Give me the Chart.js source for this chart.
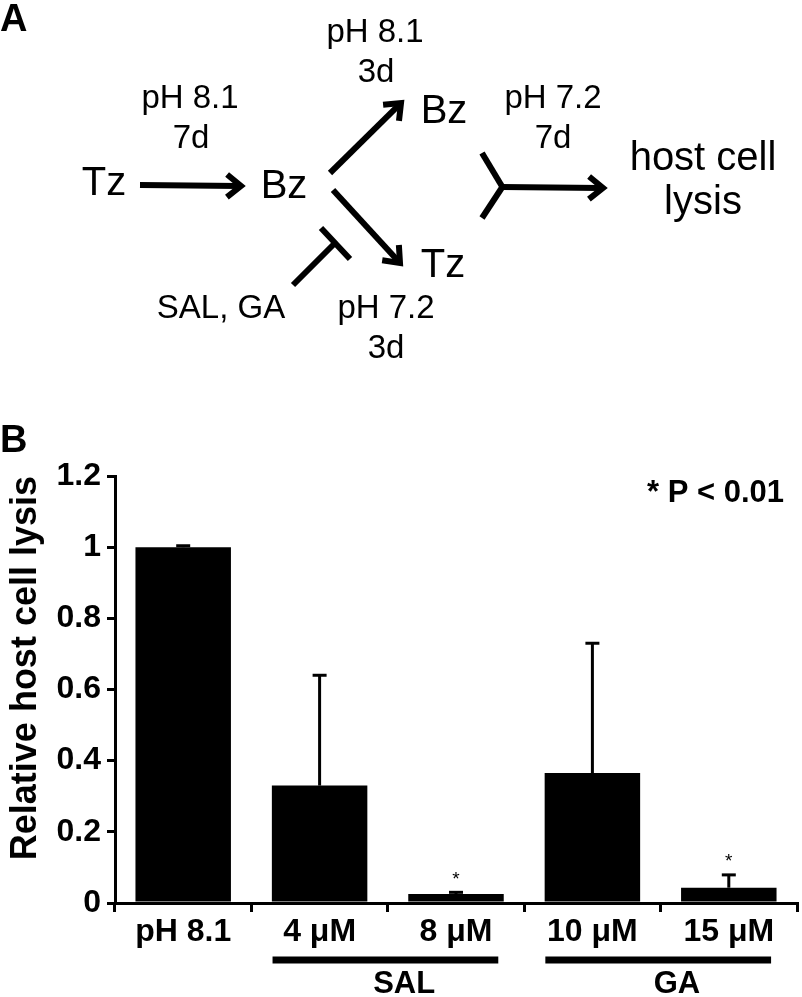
<!DOCTYPE html>
<html>
<head>
<meta charset="utf-8">
<script src="https://cdn.jsdelivr.net/npm/chart.js@4.4.1/dist/chart.umd.min.js"></script>
<style>
  html, body { margin: 0; padding: 0; background: #fff; }
  #wrap { width: 802px; height: 997px; position: relative; }
</style>
</head>
<body>
<div id="wrap"><canvas id="c"></canvas></div>
<script>
// ---- data ----
const categories = ['pH 8.1', '4 \u03bcM', '8 \u03bcM', '10 \u03bcM', '15 \u03bcM'];
const lysisValues = [1.0, 0.33, 0.025, 0.365, 0.043];
const lysisErrors = [0.004, 0.31, 0.005, 0.365, 0.036];
const significant = [false, false, true, false, true];
const yTickLabels = ['0', '0.2', '0.4', '0.6', '0.8', '1', '1.2'];
const groupNames = ['SAL', 'GA'];
const groupStart = [1, 3];
const groupEnd = [2, 4];

const FONT = '"Liberation Sans", Arial, Helvetica, sans-serif';

function arrow(ctx, x1, y1, x2, y2, head) {
  const a = Math.atan2(y2 - y1, x2 - x1);
  ctx.beginPath();
  ctx.moveTo(x1, y1);
  ctx.lineTo(x2 - Math.cos(a) * 2, y2 - Math.sin(a) * 2);
  ctx.stroke();
  if (head) {
    const hl = 18, ha = 0.68;
    ctx.beginPath();
    ctx.moveTo(x2 - hl * Math.cos(a - ha), y2 - hl * Math.sin(a - ha));
    ctx.lineTo(x2, y2);
    ctx.lineTo(x2 - hl * Math.cos(a + ha), y2 - hl * Math.sin(a + ha));
    ctx.stroke();
  }
}
function line(ctx, x1, y1, x2, y2) {
  ctx.beginPath(); ctx.moveTo(x1, y1); ctx.lineTo(x2, y2); ctx.stroke();
}

const diagramPlugin = {
  id: 'diagram',
  afterDraw(chart) {
    const ctx = chart.ctx;
    ctx.save();
    ctx.fillStyle = '#000';
    ctx.strokeStyle = '#000';
    // panel letters
    ctx.font = 'bold 38px ' + FONT;
    ctx.textAlign = 'left';
    ctx.textBaseline = 'alphabetic';
    ctx.fillText('A', 0, 31);
    ctx.fillText('B', 0, 452);

    // small labels
    ctx.textAlign = 'center';
    ctx.font = '33px ' + FONT;
    ctx.fillText('pH 8.1', 375, 42);
    ctx.fillText('3d', 376, 82);
    ctx.fillText('pH 8.1', 190, 108);
    ctx.fillText('7d', 191, 148);
    ctx.fillText('pH 7.2', 553, 108);
    ctx.fillText('7d', 553, 148);
    ctx.fillText('SAL, GA', 221, 318);
    ctx.fillText('pH 7.2', 386, 318);
    ctx.fillText('3d', 386, 358);
    // big labels
    ctx.font = '40px ' + FONT;
    ctx.fillText('Tz', 104, 195);
    ctx.fillText('Bz', 284, 198);
    ctx.fillText('Bz', 444, 123);
    ctx.fillText('Tz', 443, 277);
    ctx.fillText('host cell', 703, 170);
    ctx.fillText('lysis', 703, 214);

    // arrows
    ctx.lineWidth = 6;
    ctx.lineCap = 'butt';
    ctx.lineJoin = 'miter';
    arrow(ctx, 140, 185, 241, 186, true);
    arrow(ctx, 330, 173, 401, 103, true);
    arrow(ctx, 333, 190, 400, 263, true);
    arrow(ctx, 502, 187, 603, 188, true);
    line(ctx, 482, 153, 503, 188);
    line(ctx, 482, 218, 503, 186);
    // inhibition
    line(ctx, 293, 285, 336, 242);
    line(ctx, 321, 228, 350, 259);

    // P value note
    ctx.font = 'bold 31px ' + FONT;
    ctx.textAlign = 'right';
    ctx.fillText('* P < 0.01', 784, 502);
    ctx.restore();
  }
};

const errorPlugin = {
  id: 'errs',
  afterDatasetsDraw(chart) {
    const ctx = chart.ctx;
    const meta = chart.getDatasetMeta(0);
    const ys = chart.scales.y;
    const xs = chart.scales.x;
    ctx.save();
    ctx.strokeStyle = '#000';
    ctx.fillStyle = '#000';
    ctx.lineWidth = 3;
    meta.data.forEach((bar, i) => {
      const x = bar.x;
      const yb = ys.getPixelForValue(lysisValues[i]);
      const yt = ys.getPixelForValue(lysisValues[i] + lysisErrors[i]);
      line(ctx, x, yb, x, yt);
      line(ctx, x - 7, yt, x + 7, yt);
      if (significant[i]) {
        ctx.font = '19px ' + FONT;
        ctx.textAlign = 'center';
        ctx.textBaseline = 'middle';
        ctx.fillText('*', x, yt - 13);
      }
    });
    // group bars and labels
    const step = xs.getPixelForValue(1) - xs.getPixelForValue(0);
    ctx.lineWidth = 7;
    ctx.font = 'bold 31px ' + FONT;
    ctx.textAlign = 'center';
    ctx.textBaseline = 'alphabetic';
    groupNames.forEach((g, k) => {
      const x1 = xs.getPixelForValue(groupStart[k]) - 0.345 * step;
      const x2 = xs.getPixelForValue(groupEnd[k]) + 0.31 * step;
      line(ctx, x1, 960, x2, 960);
      const xc = xs.getPixelForValue(groupStart[k]) + 0.62 * step;
      ctx.fillText(g, xc, 993);
    });
    ctx.restore();
  }
};

new Chart(document.getElementById('c'), {
  type: 'bar',
  data: {
    labels: categories,
    datasets: [{
      data: lysisValues,
      backgroundColor: '#000',
      borderWidth: 0,
      barPercentage: 0.70,
      categoryPercentage: 1.0
    }]
  },
  options: {
    responsive: true,
    maintainAspectRatio: false,
    animation: false,
    layout: { padding: { top: 476, right: 5, left: 0, bottom: 0 } },
    plugins: { legend: { display: false }, tooltip: { enabled: false }, title: { display: false } },
    scales: {
      x: {
        afterFit(s) { s.height = 94; },
        grid: { display: true, drawOnChartArea: false, drawTicks: true, tickLength: 9, color: '#000', lineWidth: 3, offset: true },
        border: { display: true, color: '#000', width: 3 },
        ticks: { color: '#000', font: { family: FONT, size: 32, weight: 'bold' }, maxRotation: 0, autoSkip: false, padding: 1 }
      },
      y: {
        min: 0, max: 1.2,
        afterFit(s) { s.width = 115; },
        grid: { display: true, drawOnChartArea: false, drawTicks: true, tickLength: 8, color: '#000', lineWidth: 3 },
        border: { display: true, color: '#000', width: 3 },
        ticks: {
          stepSize: 0.2, color: '#000', padding: 6,
          font: { family: FONT, size: 32, weight: 'bold' },
          callback: (v, i) => yTickLabels[i]
        },
        title: {
          display: true, text: 'Relative host cell lysis', align: 'end',
          color: '#000', font: { family: FONT, size: 36, weight: 'bold' }, padding: { top: 4, bottom: 0 }
        }
      }
    }
  },
  plugins: [diagramPlugin, errorPlugin]
});
</script>
</body>
</html>
